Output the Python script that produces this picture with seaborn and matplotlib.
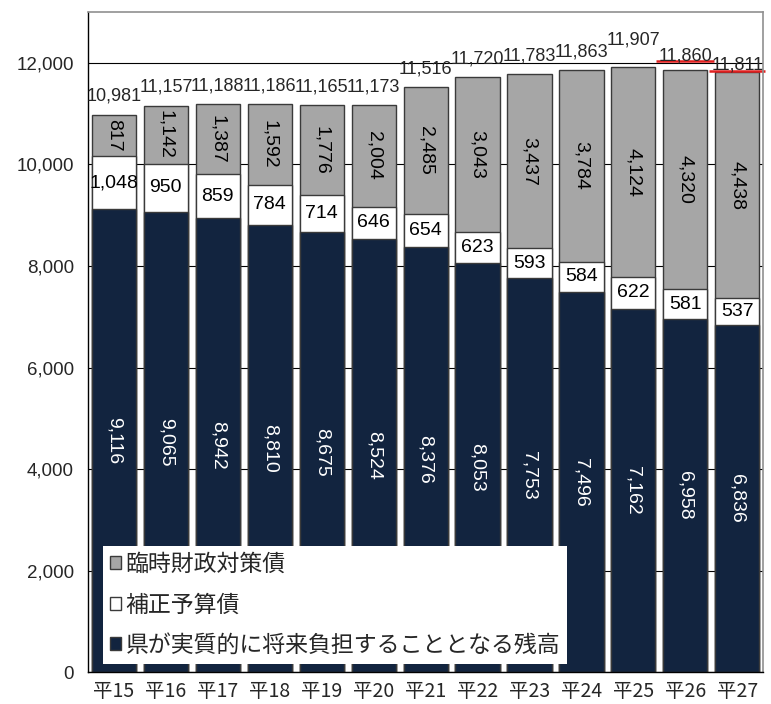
import pandas as pd
import seaborn as sns
import matplotlib.pyplot as plt
from matplotlib.patches import Patch

# 年度（平成）
years = ["平15", "平16", "平17", "平18", "平19", "平20", "平21",
         "平22", "平23", "平24", "平25", "平26", "平27"]

# 県が実質的に将来負担することとなる残高
base_debt = [9116, 9065, 8942, 8810, 8675, 8524, 8376, 8053, 7753, 7496, 7162, 6958, 6836]
# 補正予算債
hosei_debt = [1048, 950, 859, 784, 714, 646, 654, 623, 593, 584, 622, 581, 537]
# 臨時財政対策債
rinji_debt = [817, 1142, 1387, 1592, 1776, 2004, 2485, 3043, 3437, 3784, 4124, 4320, 4438]
# 合計
totals = [10981, 11157, 11188, 11186, 11165, 11173, 11516, 11720, 11783, 11863, 11907, 11860, 11811]

NAVY = "#12243f"
GRAY = "#a6a6a6"
EDGE = "#3a3a3a"
NUM_FONT = ['Liberation Sans', 'DejaVu Sans']
JP_FONT = ['Noto Sans CJK JP', 'DejaVu Sans']

sns.set_style("white")
plt.rcParams['font.family'] = NUM_FONT

df = pd.DataFrame({"year": years, "base": base_debt, "hosei": hosei_debt, "rinji": rinji_debt})
df["mid"] = df["base"] + df["hosei"]
df["top"] = df["mid"] + df["rinji"]

fig = plt.figure(figsize=(7.71, 7.04), dpi=100)
ax = fig.add_axes([0.114, 0.045, 0.876, 0.938])

# 積み上げ: 合計 -> 中間 -> 基礎 の順に重ねる
bar_kw = dict(width=0.85, edgecolor=EDGE, linewidth=1, saturation=1, errorbar=None, ax=ax)
sns.barplot(data=df, x="year", y="top", color=GRAY, **bar_kw)
sns.barplot(data=df, x="year", y="mid", color="white", **bar_kw)
sns.barplot(data=df, x="year", y="base", color=NAVY, **bar_kw)

ax.set_ylim(0, 13000)
ax.set_xlim(-0.5, len(years) - 0.5)
ax.set_yticks(range(0, 13000, 2000))
ax.set_yticklabels([f"{v:,}" for v in range(0, 13000, 2000)], family=NUM_FONT, fontsize=13.5)
ax.set_xticks(range(len(years)))
ax.set_xticklabels(years, family=JP_FONT, fontsize=14)
ax.tick_params(axis="x", length=0, pad=6)
ax.tick_params(axis="y", length=4, direction="out", color="black", pad=6)
ax.set_xticks([i + 0.5 for i in range(len(years) - 1)], minor=True)
ax.tick_params(axis="x", which="minor", length=5, direction="in", color="#bbbbbb")
ax.set_xlabel("")
ax.set_ylabel("")

ax.yaxis.grid(True, color="black", linewidth=0.8)
ax.set_axisbelow(True)
for side in ["left", "bottom"]:
    ax.spines[side].set_color("black")
    ax.spines[side].set_linewidth(1)
for side in ["top", "right"]:
    ax.spines[side].set_color("#909090")
    ax.spines[side].set_linewidth(1.2)

# 棒内ラベル
for i in range(len(years)):
    b, h, r = base_debt[i], hosei_debt[i], rinji_debt[i]
    ax.text(i, b / 2, f"{b:,}", rotation=270, color="white", ha="center", va="center",
            fontsize=14, rotation_mode="anchor")
    ax.text(i, b + h / 2, f"{h:,}", color="black", ha="center", va="center", fontsize=14)
    ax.text(i, b + h + r / 2, f"{r:,}", rotation=270, color="black", ha="center", va="center",
            fontsize=14, rotation_mode="anchor")

# 合計ラベル（重なりを避けるための微調整）
nudge = {10: 6.5, 11: -3, 12: -8}
total_texts = []
for i, t in enumerate(totals):
    txt = ax.annotate(f"{t:,}", (i, t), xytext=(0, 7 + nudge.get(i, 0)),
                      textcoords="offset points", ha="center", va="bottom",
                      fontsize=13, annotation_clip=False)
    total_texts.append(txt)

# 凡例
handles = [
    Patch(facecolor=GRAY, edgecolor=EDGE, label="臨時財政対策債"),
    Patch(facecolor="white", edgecolor=EDGE, label="補正予算債"),
    Patch(facecolor=NAVY, edgecolor=EDGE, label="県が実質的に将来負担することとなる残高"),
]
leg = ax.legend(handles=handles, loc="lower left", bbox_to_anchor=(0.022, 0.013),
                prop={"family": JP_FONT, "size": 16.5},
                handlelength=0.5, handleheight=0.5, handletextpad=0.2,
                labelspacing=0.76, borderpad=0.3, borderaxespad=0,
                frameon=True, fancybox=False, framealpha=1)
leg.get_frame().set_edgecolor("none")

# 赤い下線（平26・平27の合計）
fig.canvas.draw()
inv = ax.transData.inverted()
for i in (11, 12):
    bb = total_texts[i].get_window_extent()
    (x0, y0), (x1, _) = inv.transform([(bb.x0 - 2, bb.y0 + 3), (bb.x1 + 2, bb.y0)])
    ax.plot([x0, x1], [y0, y0], color="#e02020", linewidth=1.8, clip_on=False,
            solid_capstyle="butt")

fig.savefig("out.png", dpi=100)
